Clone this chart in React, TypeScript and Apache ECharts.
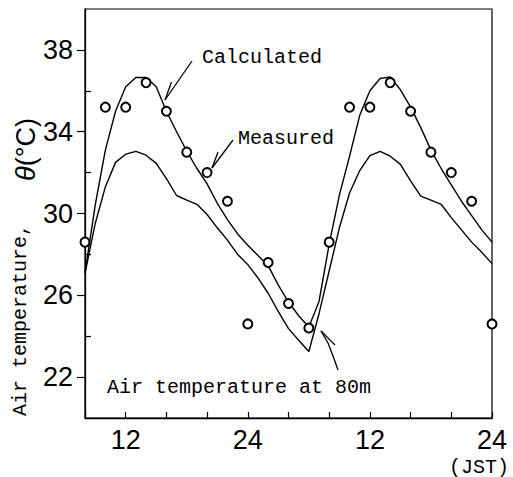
import React, { useEffect, useRef } from "react";
import * as echarts from "echarts";

// Time (hours, JST, continuous over two days) for calculated curves
const hours = [8, 9, 10, 11, 12, 13, 14, 15, 16, 17, 18, 19, 20, 21, 22, 23, 24, 25, 26, 27, 28, 29, 30, 31, 32, 33, 34, 35, 36, 37, 38, 39, 40, 41, 42, 43, 44, 45, 46, 47, 48];
// Calculated air temperature (°C)
const calculated = [27.1, 30.4, 33.1, 35.0, 36.2, 36.65, 36.65, 36.2, 35.0, 34.0, 33.05, 32.2, 31.45, 30.5, 29.7, 29.0, 28.45, 27.95, 27.45, 26.5, 25.67, 25.0, 24.45, 25.7, 28.5, 30.9, 32.8, 34.8, 36.0, 36.6, 36.68, 36.05, 35.2, 34.2, 33.1, 32.2, 31.4, 30.6, 29.9, 29.2, 28.6];
// Air temperature at 80 m (°C)
const air80m = [27.07, 29.5, 31.3, 32.5, 32.9, 33.04, 32.85, 32.45, 31.7, 30.88, 30.65, 30.45, 29.95, 29.3, 28.7, 28.0, 27.5, 26.85, 26.1, 25.2, 24.37, 23.8, 23.25, 25.1, 27.2, 29.3, 31.0, 32.1, 32.83, 33.04, 32.8, 32.4, 31.6, 30.85, 30.65, 30.45, 29.8, 29.2, 28.6, 28.1, 27.55];
// Measured air temperature (°C)
const measuredHours = [8, 10, 12, 14, 16, 18, 20, 22, 24, 26, 28, 30, 32, 34, 36, 38, 40, 42, 44, 46, 48];
const measured = [28.6, 35.2, 35.2, 36.4, 35.0, 33.0, 32.0, 30.6, 24.6, 27.6, 25.6, 24.4, 28.6, 35.2, 35.2, 36.4, 35.0, 33.0, 32.0, 30.6, 24.6];

// Axis ticks / labels
const xTickLabels = [12, 24, 36, 48];
const yMajorTicks = [22, 26, 30, 34, 38];
const yMinorTicks = [24, 28, 32, 36];

const MONO = "Liberation Mono";
const SANS = "Liberation Sans";

export default function App() {
  const ref = useRef<HTMLDivElement>(null);
  useEffect(() => {
    if (!ref.current) return;
    const chart = echarts.init(ref.current, undefined, { renderer: "svg" });
    const pair = (xs: number[], ys: number[]) => xs.map((x, i) => [x, ys[i]]);
    const lineStyle = { color: "#000", width: 1.4 };
    const lead = (points: number[][]) => ({
      type: "polyline",
      shape: { points },
      style: { stroke: "#000", lineWidth: 1.3, fill: null },
    });
    chart.setOption({
      animation: false,
      backgroundColor: "#fff",
      grid: {
        left: 85,
        right: 21,
        top: 9,
        bottom: 59,
        show: true,
        borderColor: "#000",
        borderWidth: 1.2,
        containLabel: false,
        outerBoundsMode: "none",
      },
      xAxis: {
        type: "value",
        min: 8,
        max: 48,
        interval: 4,
        splitLine: { show: false },
        axisLine: { lineStyle: { color: "#000", width: 1.3 } },
        axisTick: { inside: true, length: 6, lineStyle: { color: "#000", width: 1.2 } },
        axisLabel: {
          customValues: xTickLabels,
          formatter: (v: number) => String(v > 24 ? v - 24 : v),
          color: "#000",
          fontFamily: SANS,
          fontSize: 27,
          margin: 8,
        },
      },
      yAxis: [
        {
          type: "value",
          min: 20,
          max: 40,
          interval: 2,
          position: "left",
          splitLine: { show: false },
          axisLine: { show: true, lineStyle: { color: "#000", width: 1.3 } },
          axisTick: { show: true, inside: false, length: 8, customValues: yMajorTicks, lineStyle: { color: "#000", width: 1.2 } },
          axisLabel: {
            customValues: yMajorTicks,
            color: "#000",
            fontFamily: SANS,
            fontSize: 27,
            margin: 12,
          },
        },
        {
          type: "value",
          min: 20,
          max: 40,
          interval: 2,
          position: "left",
          offset: 0,
          splitLine: { show: false },
          axisLine: { show: false },
          axisTick: { show: true, inside: true, length: 6, customValues: yMinorTicks, lineStyle: { color: "#000", width: 1.2 } },
          axisLabel: { show: false },
        },
      ],
      series: [
        {
          name: "Calculated",
          type: "line",
          data: pair(hours, calculated),
          showSymbol: false,
          symbol: "none",
          lineStyle,
          z: 2,
        },
        {
          name: "Air temperature at 80m",
          type: "line",
          data: pair(hours, air80m),
          showSymbol: false,
          symbol: "none",
          lineStyle,
          z: 2,
        },
        {
          name: "Measured",
          type: "scatter",
          data: pair(measuredHours, measured),
          symbol: "emptyCircle",
          symbolSize: 9,
          clip: false,
          itemStyle: { color: "#000", borderColor: "#000", borderWidth: 1.4, opacity: 1 },
          z: 3,
        },
      ],
      graphic: [
        {
          type: "text",
          x: 20,
          y: 416,
          rotation: Math.PI / 2,
          style: {
            text: "Air temperature,",
            fontFamily: MONO,
            fontSize: 20,
            fill: "#000",
            align: "left",
            verticalAlign: "middle",
          },
        },
        {
          type: "text",
          x: 26,
          y: 181,
          rotation: Math.PI / 2,
          style: {
            text: "{b|θ}{c|(°C)}",
            fill: "#000",
            align: "left",
            verticalAlign: "middle",
            rich: {
              b: { fontFamily: SANS, fontStyle: "italic", fontSize: 27, fill: "#000" },
              c: { fontFamily: SANS, fontSize: 27, fill: "#000" },
            },
          },
        },
        {
          type: "text",
          x: 202,
          y: 57,
          style: { text: "Calculated", fontFamily: MONO, fontSize: 20, fill: "#000", align: "left", verticalAlign: "middle" },
        },
        {
          type: "text",
          x: 238,
          y: 138,
          style: { text: "Measured", fontFamily: MONO, fontSize: 20, fill: "#000", align: "left", verticalAlign: "middle" },
        },
        {
          type: "text",
          x: 107,
          y: 387,
          style: { text: "Air temperature at 80m", fontFamily: MONO, fontSize: 20, fill: "#000", align: "left", verticalAlign: "middle" },
        },
        {
          type: "text",
          x: 479,
          y: 467,
          style: { text: "(JST)", fontFamily: MONO, fontSize: 20, fill: "#000", align: "center", verticalAlign: "middle" },
        },
        // leader lines
        lead([[192, 61], [165, 100]]),
        lead([[165, 100], [171.5, 82]]),
        lead([[233, 140], [212, 168]]),
        lead([[212, 168], [218, 152]]),
        lead([[338, 370], [333, 356], [328, 343], [321, 331]]),
        lead([[321, 331], [335, 345]]),
      ],
    });
    return () => chart.dispose();
  }, []);
  return (
    <div
      ref={ref}
      style={{ position: "absolute", left: 0, top: 0, width: 513, height: 477, background: "#fff" }}
    />
  );
}
